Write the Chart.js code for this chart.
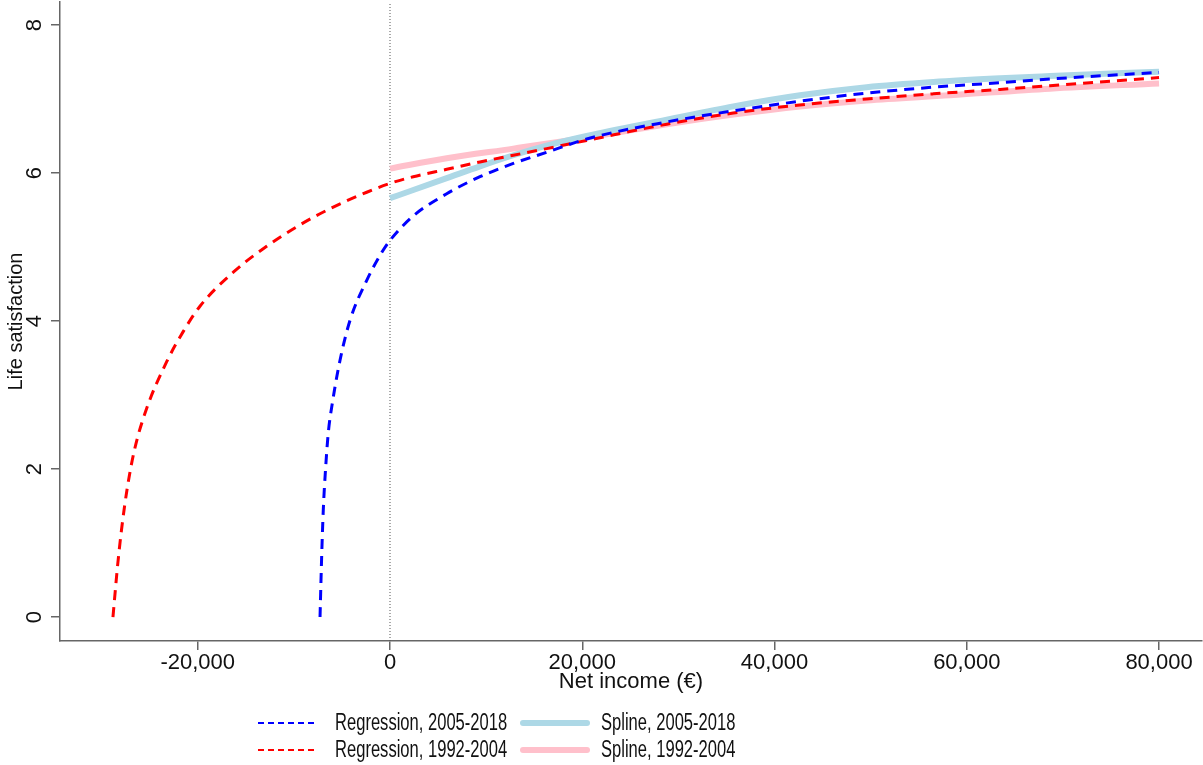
<!DOCTYPE html>
<html>
<head>
<meta charset="utf-8">
<script src="https://cdn.jsdelivr.net/npm/chart.js@4.4.1/dist/chart.umd.min.js"></script>
<style>
  html, body { margin: 0; padding: 0; background: #ffffff; }
  #wrap { width: 1203px; height: 765px; }
</style>
</head>
<body>
<div id="wrap"><canvas id="c" width="1203" height="765"></canvas></div>
<script>
// ---------------- data ----------------
const xTickValues = [-20000, 0, 20000, 40000, 60000, 80000];
const yTickValues = [0, 2, 4, 6, 8];

const regNewX = [-7280, -7100, -6940, -6690, -6420, -6000, -5200, -4160, -2420, -700, 0, 2420, 5900, 9360, 12830, 16300, 20460, 28790, 35720, 42650, 49590, 56520, 63460, 68660, 80000];
const regNewY = [0, 0.86, 1.45, 2.03, 2.49, 2.89, 3.47, 4.01, 4.55, 4.96, 5.09, 5.42, 5.72, 5.95, 6.13, 6.28, 6.46, 6.69, 6.84, 6.97, 7.08, 7.16, 7.22, 7.27, 7.36];

const regOldX = [-28820, -28590, -28350, -27930, -27360, -26580, -25310, -23230, -21500, -19770, -16300, -12830, -9360, -5900, -2420, 0, 2420, 5900, 9360, 12830, 16300, 20460, 28790, 35720, 42650, 49590, 56520, 63460, 68660, 80000];
const regOldY = [0, 0.34, 0.68, 1.18, 1.72, 2.26, 2.82, 3.45, 3.86, 4.20, 4.66, 5.01, 5.30, 5.54, 5.74, 5.86, 5.95, 6.05, 6.15, 6.24, 6.33, 6.44, 6.66, 6.81, 6.92, 7.00, 7.07, 7.13, 7.18, 7.29];

const splNewX = [0, 2420, 5900, 9360, 12830, 16300, 20460, 28790, 35720, 42650, 49590, 56520, 63460, 68660, 80000];
const splNewY = [5.66, 5.77, 5.93, 6.09, 6.24, 6.37, 6.50, 6.72, 6.90, 7.05, 7.16, 7.23, 7.28, 7.31, 7.37];

const splOldX = [0, 5900, 12830, 18000, 21850, 28790, 35720, 42650, 49590, 58260, 68660, 80000];
const splOldY = [6.06, 6.20, 6.33, 6.43, 6.51, 6.66, 6.79, 6.90, 6.98, 7.05, 7.14, 7.21];

const refLineX = [0, 0];
const xRange = [-34330, 84470];
const yRange = [-0.324, 8.311];

const seriesNames = ["Regression, 2005-2018", "Spline, 2005-2018", "Regression, 1992-2004", "Spline, 1992-2004"];

// ---------------- build chart ----------------
const pts = (xs, ys) => xs.map((x, i) => ({ x: x, y: ys[i] }));
const FONT = "'Liberation Sans', Arial, Helvetica, sans-serif";

const datasets = [
  { label: seriesNames[0], data: pts(regNewX, regNewY), borderColor: '#0000ff', borderWidth: 3, borderDash: [10, 7], legendDash: [6, 4] },
  { label: seriesNames[2], data: pts(regOldX, regOldY), borderColor: '#ff0000', borderWidth: 3, borderDash: [10, 7], legendDash: [6, 4] },
  { label: seriesNames[1], data: pts(splNewX, splNewY), borderColor: '#add8e6', borderWidth: 6, borderDash: [] },
  { label: seriesNames[3], data: pts(splOldX, splOldY), borderColor: '#ffc0cb', borderWidth: 6, borderDash: [] },
  { label: 'ref', data: pts(refLineX, yRange), borderColor: '#555555', borderWidth: 1, borderDash: [1, 2], cubicInterpolationMode: 'default', tension: 0 }
].map(d => Object.assign({ pointRadius: 0, fill: false, cubicInterpolationMode: 'monotone', borderCapStyle: 'butt' }, d));

// legend drawn below the axes, two columns x two rows
const legendPlugin = {
  id: 'stataLegend',
  afterDraw(chart) {
    const ctx = chart.ctx;
    const order = [0, 2, 1, 3]; // dataset indices
    const cols = [{ lx0: 258, lx1: 318, tx: 335 }, { lx0: 523, lx1: 587, tx: 601 }];
    const rows = [723, 750];
    ctx.save();
    order.forEach((di, k) => {
      const ds = chart.data.datasets[di];
      const c = cols[k % 2], y = rows[Math.floor(k / 2)];
      ctx.beginPath();
      ctx.strokeStyle = ds.borderColor;
      ctx.lineWidth = ds.borderWidth === 6 ? 6 : 2;
      ctx.lineCap = ds.borderWidth === 6 ? 'round' : 'butt';
      ctx.setLineDash(ds.legendDash || []);
      ctx.moveTo(c.lx0, y);
      ctx.lineTo(c.lx1, y);
      ctx.stroke();
      ctx.setLineDash([]);
      ctx.save();
      ctx.translate(c.tx, y);
      ctx.scale(0.72, 1);
      ctx.fillStyle = '#111111';
      ctx.font = "23px " + FONT;
      ctx.textBaseline = 'middle';
      ctx.textAlign = 'left';
      ctx.fillText(ds.label, 0, 1);
      ctx.restore();
    });
    ctx.restore();
  }
};

const zeroPad = s => { s.paddingTop = 0; s.paddingBottom = 0; s.paddingLeft = 0; s.paddingRight = 0; };

new Chart(document.getElementById('c'), {
  type: 'line',
  data: { datasets: datasets },
  plugins: [legendPlugin],
  options: {
    responsive: false,
    animation: false,
    devicePixelRatio: 1,
    layout: { padding: { left: 0, right: 1, top: 2, bottom: 70 } },
    plugins: { legend: { display: false }, tooltip: { enabled: false } },
    scales: {
      x: {
        type: 'linear',
        min: xRange[0], max: xRange[1],
        afterBuildTicks: s => { s.ticks = xTickValues.map(v => ({ value: v })); },
        afterFit: s => { s.height = 54; zeroPad(s); },
        ticks: {
          color: '#111111', font: { family: FONT, size: 22 }, padding: 0, maxRotation: 0, autoSkip: false,
          callback: v => Number(v).toLocaleString('en-US')
        },
        grid: { drawOnChartArea: false, drawTicks: true, tickLength: 9, color: '#666666', lineWidth: 1.5 },
        border: { display: true, color: '#666666', width: 1.5 },
        title: { display: true, text: 'Net income (€)', color: '#111111', font: { family: FONT, size: 22 }, padding: { top: 0, bottom: 0 } }
      },
      y: {
        type: 'linear',
        min: yRange[0], max: yRange[1],
        afterBuildTicks: s => { s.ticks = yTickValues.map(v => ({ value: v })); },
        afterFit: s => { s.width = 60; zeroPad(s); },
        ticks: {
          color: '#111111', font: { family: FONT, size: 22 }, padding: 10, minRotation: 90, maxRotation: 90, crossAlign: 'center',
          callback: v => String(v)
        },
        grid: { drawOnChartArea: false, drawTicks: true, tickLength: 9, color: '#666666', lineWidth: 1.5 },
        border: { display: true, color: '#666666', width: 1.5 },
        title: { display: true, text: 'Life satisfaction', color: '#111111', font: { family: FONT, size: 20 }, padding: { top: 4, bottom: 0 } }
      }
    }
  }
});
</script>
</body>
</html>
